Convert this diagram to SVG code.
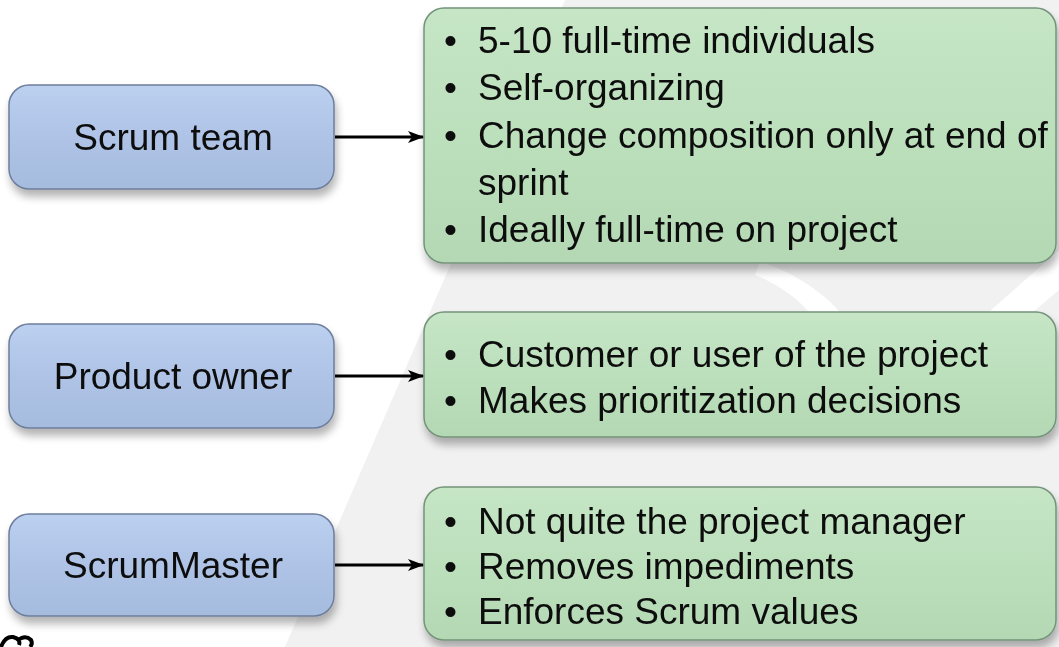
<svg xmlns="http://www.w3.org/2000/svg" width="1059" height="647" viewBox="0 0 1059 647">
  <defs>
    <linearGradient id="gBlue" x1="0" y1="0" x2="0" y2="1">
      <stop offset="0" stop-color="#bcd0f0"/>
      <stop offset="0.5" stop-color="#aec3e6"/>
      <stop offset="1" stop-color="#a6bcdf"/>
    </linearGradient>
    <linearGradient id="gGreen" x1="0" y1="0" x2="0" y2="1">
      <stop offset="0" stop-color="#c6e6c6"/>
      <stop offset="0.5" stop-color="#bcdfbc"/>
      <stop offset="1" stop-color="#b4d8b4"/>
    </linearGradient>
    <filter id="shadow" x="-10%" y="-10%" width="120%" height="140%">
      <feGaussianBlur in="SourceAlpha" stdDeviation="4"/>
      <feOffset dx="2" dy="7" result="b"/>
      <feComponentTransfer><feFuncA type="linear" slope="0.3"/></feComponentTransfer>
      <feMerge><feMergeNode/><feMergeNode in="SourceGraphic"/></feMerge>
    </filter>
    <marker id="arrow" markerWidth="16" markerHeight="14" refX="15" refY="7" orient="auto" markerUnits="userSpaceOnUse">
      <path d="M0,1 L16,7 L0,13 L4,7 Z" fill="#000"/>
    </marker>
  </defs>
  <style>
    .blue { fill: url(#gBlue); stroke: #6d7e9c; stroke-width: 1.5; }
    .green { fill: url(#gGreen); stroke: #74937a; stroke-width: 1.5; }
    .lbl { font-family: "Liberation Sans", Arial, sans-serif; font-size: 37px; fill: #0e0e0e; text-anchor: middle; }
    .item { font-family: "Liberation Sans", Arial, sans-serif; font-size: 37px; fill: #0e0e0e; }
    .conn { stroke: #000; stroke-width: 3; fill: none; marker-end: url(#arrow); }
    .wm { fill: #f1f1f1; }
  </style>

  <rect x="0" y="0" width="1059" height="647" fill="#ffffff"/>

  <g id="watermark">
    <path class="wm" d="M565,0 L1059,0 L1059,647 L285,647 Z"/>
    <path fill="#ffffff" d="M760,262 C790,270 840,300 850,330 L820,330 C810,305 780,285 755,275 Z"/>
    <path fill="#ffffff" d="M980,320 L1059,250 L1059,290 L1000,340 Z"/>
  </g>

  <g id="node-scrum-team" filter="url(#shadow)">
    <rect class="blue" x="9" y="85" width="325" height="104" rx="20"/>
    <text class="lbl" x="173" y="150">Scrum team</text>
  </g>
  <g id="node-product-owner" filter="url(#shadow)">
    <rect class="blue" x="9" y="324" width="325" height="104" rx="20"/>
    <text class="lbl" x="173" y="389">Product owner</text>
  </g>
  <g id="node-scrummaster" filter="url(#shadow)">
    <rect class="blue" x="9" y="514" width="325" height="102" rx="20"/>
    <text class="lbl" x="173" y="578">ScrumMaster</text>
  </g>

  <g id="node-team-details" filter="url(#shadow)">
    <rect class="green" x="424" y="8" width="632" height="255" rx="20"/>
    <text class="item" x="444" y="53">•</text>
    <text class="item" x="478" y="53">5-10 full-time individuals</text>
    <text class="item" x="444" y="100">•</text>
    <text class="item" x="478" y="100">Self-organizing</text>
    <text class="item" x="444" y="148">•</text>
    <text class="item" x="478" y="148">Change composition only at end of</text>
    <text class="item" x="478" y="195">sprint</text>
    <text class="item" x="444" y="242">•</text>
    <text class="item" x="478" y="242">Ideally full-time on project</text>
  </g>
  <g id="node-owner-details" filter="url(#shadow)">
    <rect class="green" x="424" y="312" width="632" height="125" rx="20"/>
    <text class="item" x="444" y="367">•</text>
    <text class="item" x="478" y="367">Customer or user of the project</text>
    <text class="item" x="444" y="413">•</text>
    <text class="item" x="478" y="413">Makes prioritization decisions</text>
  </g>
  <g id="node-master-details" filter="url(#shadow)">
    <rect class="green" x="424" y="487" width="632" height="153" rx="20"/>
    <text class="item" x="444" y="534">•</text>
    <text class="item" x="478" y="534">Not quite the project manager</text>
    <text class="item" x="444" y="579">•</text>
    <text class="item" x="478" y="579">Removes impediments</text>
    <text class="item" x="444" y="624">•</text>
    <text class="item" x="478" y="624">Enforces Scrum values</text>
  </g>

  <g id="connectors">
    <line class="conn" x1="335" y1="137" x2="423" y2="137"/>
    <line class="conn" x1="335" y1="376" x2="423" y2="376"/>
    <line class="conn" x1="335" y1="565" x2="423" y2="565"/>
  </g>

  <path d="M1,647 Q5,636 13,637 Q21,639 19,645 M17,641 Q25,634 31,640 Q33,644 30,647" fill="none" stroke="#000" stroke-width="4"/>
</svg>
